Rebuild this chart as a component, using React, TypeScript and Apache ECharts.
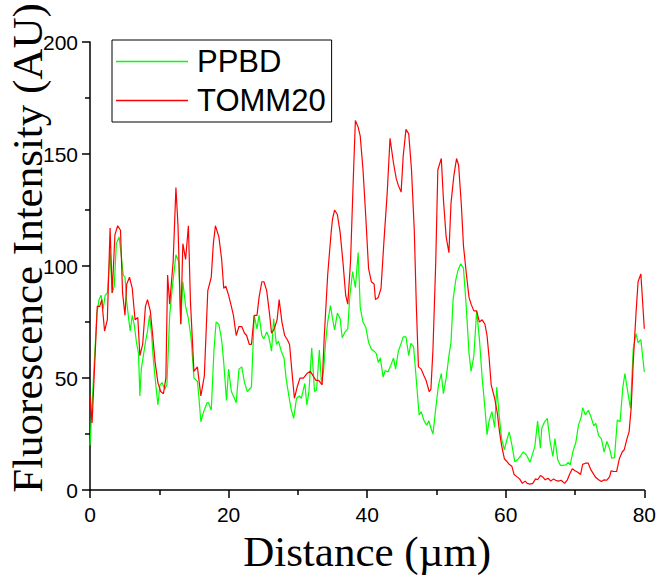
import React, { useEffect, useRef } from "react";
import * as echarts from "echarts";

// Distance (µm) vs fluorescence intensity (AU)
const ppbdProfile: [number, number][] = [
  [0, 20], [0.2, 32], [0.6, 56], [1.0, 79], [1.3, 85], [1.6, 87], [1.9, 81], [2.2, 87], [2.5, 88], [2.9, 106],
  [3.2, 88], [3.5, 91], [3.8, 110], [4.2, 113], [4.5, 105], [4.8, 96], [5.05, 95], [5.3, 84], [5.6, 76], [5.8, 71],
  [6.1, 78], [6.4, 73.5], [6.7, 66], [7.0, 61], [7.2, 42], [7.4, 54], [7.7, 60], [8.0, 66], [8.3, 71], [8.6, 78],
  [8.9, 69], [9.1, 60], [9.4, 50], [9.8, 38], [10.1, 47], [10.4, 48], [10.8, 45], [11.1, 47], [11.5, 78], [11.9, 91],
  [12.4, 105], [12.8, 102], [13.1, 74], [13.4, 93], [13.8, 82], [14.2, 76.5], [14.6, 67.5], [15.0, 50], [15.5, 48.6], [15.7, 42],
  [16.0, 30.5], [16.4, 35], [16.9, 39], [17.1, 39], [17.5, 35.6], [17.9, 63], [18.2, 75], [18.6, 74], [19.0, 67], [19.3, 57],
  [19.7, 40], [20.0, 54], [20.4, 44], [20.7, 42], [21.1, 39], [21.5, 54], [21.9, 55], [22.3, 48], [22.7, 44], [23.0, 45],
  [23.3, 46], [23.7, 78], [24.1, 72], [24.4, 78], [24.8, 69], [25.1, 67.5], [25.5, 70.6], [25.8, 68.4], [26.2, 62], [26.5, 76.5],
  [26.9, 65], [27.2, 66.5], [27.6, 62], [28.0, 59], [28.3, 50], [28.7, 42], [29.0, 36.5], [29.4, 32], [29.8, 41], [30.2, 42],
  [30.5, 41], [31.0, 47.6], [31.3, 38], [31.6, 44], [32.0, 63.5], [32.4, 44], [32.7, 44.7], [33.1, 62.5], [33.4, 48], [33.7, 52.7],
  [34.0, 66], [34.3, 75], [34.7, 82.4], [35.0, 76.5], [35.3, 71.5], [35.7, 79], [36.1, 76.5], [36.4, 68], [36.8, 70.6], [37.2, 72],
  [37.5, 86.8], [37.9, 97.5], [38.3, 90.4], [38.7, 106], [39.0, 81.6], [39.4, 75], [39.8, 72.7], [40.2, 66], [40.6, 63], [41.0, 62],
  [41.3, 61], [41.6, 57], [41.9, 59], [42.3, 50.4], [42.6, 53.4], [43.0, 52.7], [43.4, 55.6], [43.8, 59], [44.1, 54], [44.5, 62],
  [44.9, 65.5], [45.2, 68.4], [45.6, 68.4], [46.0, 60], [46.3, 65.5], [46.7, 64], [47.0, 52.7], [47.5, 33.5], [47.8, 35], [48.2, 31],
  [48.6, 29], [48.9, 31], [49.2, 27.6], [49.5, 25], [49.9, 36.5], [50.3, 47], [50.7, 52], [51.0, 43], [51.4, 50], [51.8, 60],
  [52.1, 66], [52.4, 85], [52.8, 94], [53.1, 98], [53.5, 101], [53.9, 99], [54.3, 82], [54.7, 61], [55.0, 53], [55.4, 60],
  [55.8, 80], [56.2, 67.5], [56.6, 50], [57.0, 36.5], [57.3, 24.7], [57.6, 31], [58.0, 35], [58.4, 28], [58.7, 46], [59.0, 35],
  [59.4, 23], [59.8, 18], [60.1, 21.7], [60.5, 26], [60.9, 20], [61.3, 12.7], [61.7, 13.5], [62.1, 15], [62.5, 17], [62.9, 16],
  [63.1, 15], [63.5, 12.4], [63.9, 16.5], [64.2, 19.5], [64.6, 30.8], [65.0, 18.7], [65.2, 27.6], [65.6, 30.5], [66.0, 32], [66.4, 21.7],
  [66.8, 15], [67.1, 23], [67.5, 13.5], [67.9, 11], [68.3, 11], [68.7, 11.3], [69.0, 12.4], [69.3, 11.3], [69.7, 17.3], [70.1, 21],
  [70.5, 29], [70.9, 32.7], [71.1, 36.8], [71.5, 33.5], [71.9, 35.6], [72.3, 32.7], [72.7, 28.7], [73.0, 29.8], [73.4, 24.3], [73.8, 23],
  [74.2, 17], [74.6, 21.7], [75.0, 18.4], [75.3, 14.2], [75.7, 14.5], [76.1, 31.3], [76.5, 30.5], [76.9, 46], [77.2, 52], [77.6, 44],
  [78.0, 36.5], [78.4, 63], [78.8, 69.8], [79.1, 65.8], [79.5, 67.2], [80.0, 52.7],
];

const tomm20Profile: [number, number][] = [
  [0, 42], [0.3, 30], [1.05, 82], [1.4, 82], [1.7, 85], [2.1, 71], [2.5, 76], [2.9, 117], [3.2, 88], [3.6, 114],
  [4.0, 118], [4.4, 116], [4.7, 88], [5.05, 78], [5.3, 92], [5.7, 95], [6.1, 90], [6.5, 76], [6.9, 77], [7.2, 60],
  [7.6, 65], [8.0, 82], [8.3, 85], [8.7, 80], [9.05, 69], [9.4, 57], [9.8, 48], [10.2, 44], [10.6, 43], [10.95, 50],
  [11.2, 96], [11.5, 83], [12.0, 102], [12.4, 135], [12.7, 118], [13.1, 74], [13.4, 110], [13.8, 103], [14.2, 118], [14.5, 84],
  [15.0, 53], [15.5, 55], [16.0, 42], [16.5, 51], [17.0, 89], [17.5, 95], [17.8, 110], [18.1, 118], [18.6, 113], [19.0, 103],
  [19.3, 90], [19.6, 91], [20.0, 87], [20.4, 82], [20.7, 78], [21.1, 69], [21.5, 73], [21.9, 73], [22.3, 70], [22.6, 69],
  [23.0, 65], [23.3, 65], [23.7, 78], [24.1, 78], [24.4, 86], [24.8, 93], [25.1, 93], [25.5, 89], [25.9, 79], [26.2, 70],
  [26.6, 72], [27.0, 76], [27.3, 85], [27.7, 75], [28.1, 69], [28.5, 67], [28.8, 65], [29.2, 51], [29.5, 41], [29.9, 46],
  [30.3, 50], [30.8, 50], [31.3, 52], [31.8, 53], [32.2, 51], [32.6, 49], [33.0, 49], [33.5, 47], [33.8, 68], [34.3, 96],
  [34.8, 115], [35.0, 121], [35.3, 125], [35.7, 123], [36.1, 115], [36.5, 102], [36.9, 87], [37.2, 83], [37.6, 102], [38.0, 139],
  [38.3, 165], [38.7, 162], [39.0, 158], [39.4, 143], [39.8, 122], [40.2, 99], [40.6, 93], [41.0, 92], [41.2, 85], [41.6, 86],
  [42.0, 90], [42.4, 110], [42.9, 133], [43.3, 157], [43.8, 146], [44.2, 139], [44.5, 136], [44.9, 133], [45.2, 149], [45.6, 161],
  [46.0, 159], [46.4, 143], [46.8, 116], [47.1, 82], [47.4, 55], [47.8, 54], [48.2, 51], [48.5, 49], [48.95, 44], [49.2, 45],
  [49.5, 63], [49.9, 102], [50.2, 143], [50.7, 148], [51.0, 130], [51.4, 113], [51.8, 106], [52.1, 128], [52.5, 140], [52.9, 148],
  [53.2, 145], [53.6, 127], [53.9, 109], [54.3, 97], [54.7, 86], [55.0, 83], [55.4, 80], [55.8, 80], [56.2, 75], [56.6, 76],
  [57.0, 74], [57.3, 69], [57.6, 59], [57.9, 47], [58.4, 41], [58.8, 34], [59.1, 26], [59.4, 20], [59.8, 14], [60.1, 13],
  [60.5, 11.5], [60.9, 10.5], [61.2, 7], [61.6, 6], [62.0, 5], [62.4, 3], [62.8, 4], [63.1, 3], [63.5, 2.7], [63.9, 3],
  [64.3, 5], [64.6, 4.6], [65.0, 6.5], [65.3, 6], [65.7, 4.6], [66.1, 5.3], [66.5, 4], [66.9, 5], [67.2, 4.4], [67.6, 4],
  [68.0, 4.4], [68.5, 3], [68.9, 4.6], [69.2, 7], [69.6, 9.5], [70.0, 8.6], [70.4, 8], [70.8, 7], [71.1, 11.5], [71.5, 12],
  [71.9, 12], [72.3, 9], [72.7, 7], [73.0, 5.6], [73.4, 4.6], [73.8, 3.8], [74.2, 4.6], [74.6, 4.4], [75.0, 6], [75.2, 8.6],
  [75.6, 8.3], [76.0, 8.3], [76.4, 14], [76.8, 17], [77.1, 18], [77.5, 23], [77.8, 26], [78.1, 36.5], [78.4, 57], [78.8, 79],
  [79.1, 93], [79.5, 96.5], [80.0, 72],
];

const seriesNames = ["PPBD", "TOMM20"];
const seriesColors = ["#00ff00", "#ff0000"];

const SANS = "'Liberation Sans', Arial, sans-serif";
const SERIF = "'Liberation Serif', 'Times New Roman', serif";

export default function App() {
  const ref = useRef<HTMLDivElement>(null);

  useEffect(() => {
    const chart = echarts.init(ref.current!, null, { renderer: "svg" });
    const axisCommon = {
      type: "value" as const,
      axisLine: { show: true, onZero: false, lineStyle: { color: "#000", width: 1.5 } },
      axisTick: { show: true, inside: false, length: 8, lineStyle: { color: "#000", width: 1.5 } },
      minorTick: { show: true, splitNumber: 2, length: 5, lineStyle: { color: "#000", width: 1.5 } },
      splitLine: { show: false },
      minorSplitLine: { show: false },
    };
    chart.setOption({
      animation: false,
      backgroundColor: "#ffffff",
      grid: { left: 90, right: 9, top: 42, bottom: 86, containLabel: false },
      legend: {
        orient: "vertical",
        left: 112,
        top: 40,
        data: seriesNames,
        icon: "rect",
        itemWidth: 72,
        itemHeight: 1.3,
        itemGap: 0,
        padding: [2, 6, 2, 4],
        borderColor: "#000",
        borderWidth: 1,
        backgroundColor: "#fff",
        textStyle: {
          fontFamily: SANS,
          fontSize: 31,
          color: "#000",
          lineHeight: 39,
          padding: [0, 0, 0, 4],
        },
      },
      xAxis: {
        ...axisCommon,
        min: 0,
        max: 80,
        interval: 20,
        axisLabel: { color: "#000", fontSize: 21, fontFamily: SANS, margin: 14 },
        name: "Distance (µm)",
        nameLocation: "middle",
        nameGap: 38,
        nameTextStyle: { fontFamily: SERIF, fontSize: 43, color: "#000" },
      },
      yAxis: {
        ...axisCommon,
        min: 0,
        max: 200,
        interval: 50,
        axisLabel: { color: "#000", fontSize: 21, fontFamily: SANS, margin: 12 },
      },
      graphic: [
        {
          type: "text",
          x: 27,
          y: 248,
          rotation: Math.PI / 2,
          style: {
            text: "Fluorescence Intensity (AU)",
            fontFamily: SERIF,
            fontSize: 43,
            fill: "#000",
            textAlign: "center",
            textVerticalAlign: "middle",
          },
        },
      ],
      series: [
        {
          name: seriesNames[0],
          type: "line",
          data: ppbdProfile,
          symbol: "none",
          showSymbol: false,
          clip: true,
          lineStyle: { color: seriesColors[0], width: 1.2 },
          itemStyle: { color: seriesColors[0] },
        },
        {
          name: seriesNames[1],
          type: "line",
          data: tomm20Profile,
          symbol: "none",
          showSymbol: false,
          clip: true,
          lineStyle: { color: seriesColors[1], width: 1.2 },
          itemStyle: { color: seriesColors[1] },
        },
      ],
    });
    return () => chart.dispose();
  }, []);

  return (
    <div
      ref={ref}
      style={{ position: "fixed", left: 0, top: 0, width: 659, height: 578, background: "#fff" }}
    />
  );
}
